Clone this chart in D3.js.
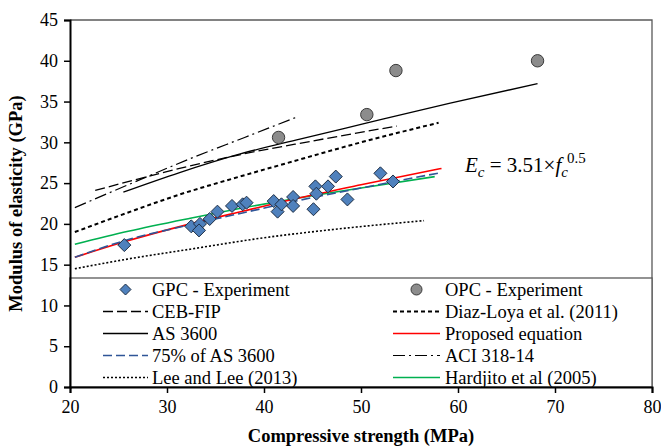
<!DOCTYPE html>
<html>
<head>
<meta charset="utf-8">
<script src="https://cdn.jsdelivr.net/npm/d3@7"></script>
<style>
  body { margin: 0; background: #fff; }
  text { font-family: "Liberation Serif", "Times New Roman", serif; }
</style>
</head>
<body>
<div id="chart"></div>
<script>
// experimental data (f'c MPa, Ec GPa)
var gpcF = [25.6, 32.5, 33.4, 33.3, 34.4, 35.2, 36.7, 37.8, 38.2, 41.0, 41.4, 41.8, 43.0, 43.0, 45.1, 45.3, 45.4, 46.6, 47.4, 48.6, 52.0, 53.3]
var gpcE = [17.4, 19.7, 20.0, 19.2, 20.6, 21.5, 22.2, 22.4, 22.6, 22.8, 21.5, 22.4, 23.3, 22.2, 21.8, 24.6, 23.7, 24.6, 25.8, 23.0, 26.2, 25.2]
var opcF = [41.5, 50.6, 53.6, 68.2]
var opcE = [30.6, 33.4, 38.8, 40.0]

// curves
var cebF = [22.6, 27, 31.3, 38, 44.7, 53.7]
var cebE = [24.1, 25.5, 26.8, 28.6, 30.1, 32.0]
var diazF = [20.5, 26, 31.3, 37.5, 43.7, 50, 58]
var diazE = [19.0, 21.4, 23.6, 25.8, 27.9, 30.0, 32.4]
var asF = [25.5, 31.3, 37, 43.7, 50, 59.2, 68.2]
var asE = [23.9, 26.3, 28.4, 30.4, 32.2, 34.8, 37.2]
var propF = [20.5, 25.6, 32.4, 38, 43.7, 50, 58.3]
var propE = [15.9, 17.8, 20.0, 21.6, 23.2, 24.8, 26.8]
var as75F = [20.5, 25.5, 32.4, 38, 43.7, 50, 58.3]
var as75E = [15.9, 17.9, 19.9, 21.4, 22.9, 24.4, 26.3]
var aciF = [20.5, 26, 32.4, 38, 43.6]
var aciE = [22.0, 24.8, 28.0, 30.6, 33.2]
var leeF = [20.5, 26, 32.4, 40, 47.8, 56.5]
var leeE = [14.5, 15.7, 16.9, 18.3, 19.4, 20.4]
var hardF = [20.5, 26, 32.4, 38, 43.7, 50, 57.6]
var hardE = [17.5, 19.1, 20.7, 22.0, 23.2, 24.4, 25.8]

var xTicks = [20, 30, 40, 50, 60, 70, 80]
var yTicks = [0, 5, 10, 15, 20, 25, 30, 35, 40, 45]

var W = 661, H = 446
var x0 = 70, x1 = 652, y0 = 387, y1 = 20

var svg = d3.select("#chart").append("svg").attr("width", W).attr("height", H)

var xs = d3.scaleLinear().domain([20, 80]).range([x0, x1])
var ys = d3.scaleLinear().domain([0, 45]).range([y0, y1])

function pts(F, E) { return F.map(function (f, i) { return [f, E[i]] }) }

var line = d3.line().x(d => xs(d[0])).y(d => ys(d[1])).curve(d3.curveMonotoneX)

var curves = [
  { name: "CEB-FIP", data: pts(cebF, cebE), color: "#000", w: 1.3, dash: "10,4" },
  { name: "Diaz-Loya et al. (2011)", data: pts(diazF, diazE), color: "#000", w: 2, dash: "4,3" },
  { name: "AS 3600", data: pts(asF, asE), color: "#000", w: 1.3, dash: null },
  { name: "ACI 318-14", data: pts(aciF, aciE), color: "#000", w: 1.2, dash: "12,4,2,4" },
  { name: "Lee and Lee (2013)", data: pts(leeF, leeE), color: "#000", w: 1.6, dash: "2,2" },
  { name: "Hardjito et al (2005)", data: pts(hardF, hardE), color: "#00b050", w: 1.6, dash: null },
  { name: "Proposed equation", data: pts(propF, propE), color: "#ff0000", w: 1.6, dash: null },
  { name: "75% of AS 3600", data: pts(as75F, as75E), color: "#2f5597", w: 1.6, dash: "9,4" }
]
var byName = {}
curves.forEach(function (c) { byName[c.name] = c })

// plot frame (top & right)
svg.append("path")
  .attr("d", "M" + x0 + "," + y1 + "H" + x1 + "V" + y0)
  .attr("fill", "none").attr("stroke", "#595959").attr("stroke-width", 1.3)

svg.append("g").selectAll("path")
  .data(curves)
  .enter()
  .append("path")
  .attr("d", d => line(d.data))
  .attr("fill", "none")
  .attr("stroke", d => d.color)
  .attr("stroke-width", d => d.w)
  .attr("stroke-dasharray", d => d.dash)

function diamond(cx, cy, r) {
  return "M" + cx + "," + (cy - r) + "L" + (cx + r) + "," + cy + "L" + cx + "," + (cy + r) + "L" + (cx - r) + "," + cy + "Z"
}

svg.append("g").selectAll("path")
  .data(pts(gpcF, gpcE))
  .enter()
  .append("path")
  .attr("d", d => diamond(xs(d[0]), ys(d[1]), 6.5))
  .attr("fill", "#4f81bd").attr("stroke", "#1f2f45").attr("stroke-width", 1)

svg.append("g").selectAll("circle")
  .data(pts(opcF, opcE))
  .enter()
  .append("circle")
  .attr("cx", d => xs(d[0])).attr("cy", d => ys(d[1])).attr("r", 6.2)
  .attr("fill", "#8c8c8c").attr("stroke", "#3a3a3a").attr("stroke-width", 1)

// formula
var eq = svg.append("text").attr("x", 465).attr("y", 172).style("font-size", "21px")
eq.append("tspan").style("font-style", "italic").text("E")
eq.append("tspan").style("font-style", "italic").style("font-size", "15px").attr("dy", 5).text("c")
eq.append("tspan").attr("dy", -5).text(" = 3.51×")
eq.append("tspan").style("font-style", "italic").text("f")
eq.append("tspan").style("font-style", "italic").style("font-size", "15px").attr("dy", 5).text("c")
eq.append("tspan").style("font-size", "15px").attr("dy", -14).attr("dx", -1).text("0.5")

// legend
var lg = svg.append("g")
lg.append("rect").attr("x", x0).attr("y", 278).attr("width", x1 - x0).attr("height", y0 - 278)
  .attr("fill", "#fff").attr("stroke", "#595959").attr("stroke-width", 1.3)

var leftItems = ["GPC - Experiment", "CEB-FIP", "AS 3600", "75% of AS 3600", "Lee and Lee (2013)"]
var rightItems = ["OPC - Experiment", "Diaz-Loya et al. (2011)", "Proposed equation", "ACI 318-14", "Hardjito et al (2005)"]

function drawLegend(items, lx0, lx1, tx) {
  items.forEach(function (name, i) {
    var cy = 289.5 + i * 22
    if (name == "GPC - Experiment") {
      lg.append("path").attr("d", diamond((lx0 + lx1) / 2, cy, 5.5))
        .attr("fill", "#4f81bd").attr("stroke", "#1f2f45").attr("stroke-width", 1)
    } else if (name == "OPC - Experiment") {
      lg.append("circle").attr("cx", (lx0 + lx1) / 2).attr("cy", cy).attr("r", 5.5)
        .attr("fill", "#8c8c8c").attr("stroke", "#3a3a3a").attr("stroke-width", 1)
    } else {
      var c = byName[name]
      lg.append("line").attr("x1", lx0).attr("x2", lx1).attr("y1", cy).attr("y2", cy)
        .attr("stroke", c.color).attr("stroke-width", c.w).attr("stroke-dasharray", c.dash)
    }
    lg.append("text").attr("x", tx).attr("y", cy).attr("dy", "0.35em")
      .style("font-size", "18.5px").text(name)
  })
}
drawLegend(leftItems, 103, 148, 152)
drawLegend(rightItems, 393, 440, 445)

// axes
var yAxis = svg.append("g")
  .attr("transform", "translate(" + x0 + ",0)")
  .call(d3.axisLeft(ys).tickValues(yTicks).tickSize(6).tickPadding(6))
var xAxis = svg.append("g")
  .attr("transform", "translate(0," + y0 + ")")
  .call(d3.axisBottom(xs).tickValues(xTicks).tickSize(6).tickPadding(7))

;[xAxis, yAxis].forEach(function (a) {
  a.select(".domain").attr("stroke", "#000").attr("stroke-width", 2)
  a.selectAll(".tick line").attr("stroke", "#000").attr("stroke-width", 1.5)
  a.selectAll(".tick text").style("font-size", "18px").style("font-family", "Liberation Serif").attr("fill", "#000")
})

svg.append("text")
  .attr("x", (x0 + x1) / 2).attr("y", 442)
  .attr("text-anchor", "middle")
  .style("font-size", "18.5px").style("font-weight", "bold")
  .text("Compressive strength (MPa)")

svg.append("text")
  .attr("transform", "translate(22," + (y0 + y1) / 2 + ") rotate(-90)")
  .attr("text-anchor", "middle")
  .style("font-size", "18.5px").style("font-weight", "bold")
  .text("Modulus of elasticity (GPa)")
</script>
</body>
</html>
